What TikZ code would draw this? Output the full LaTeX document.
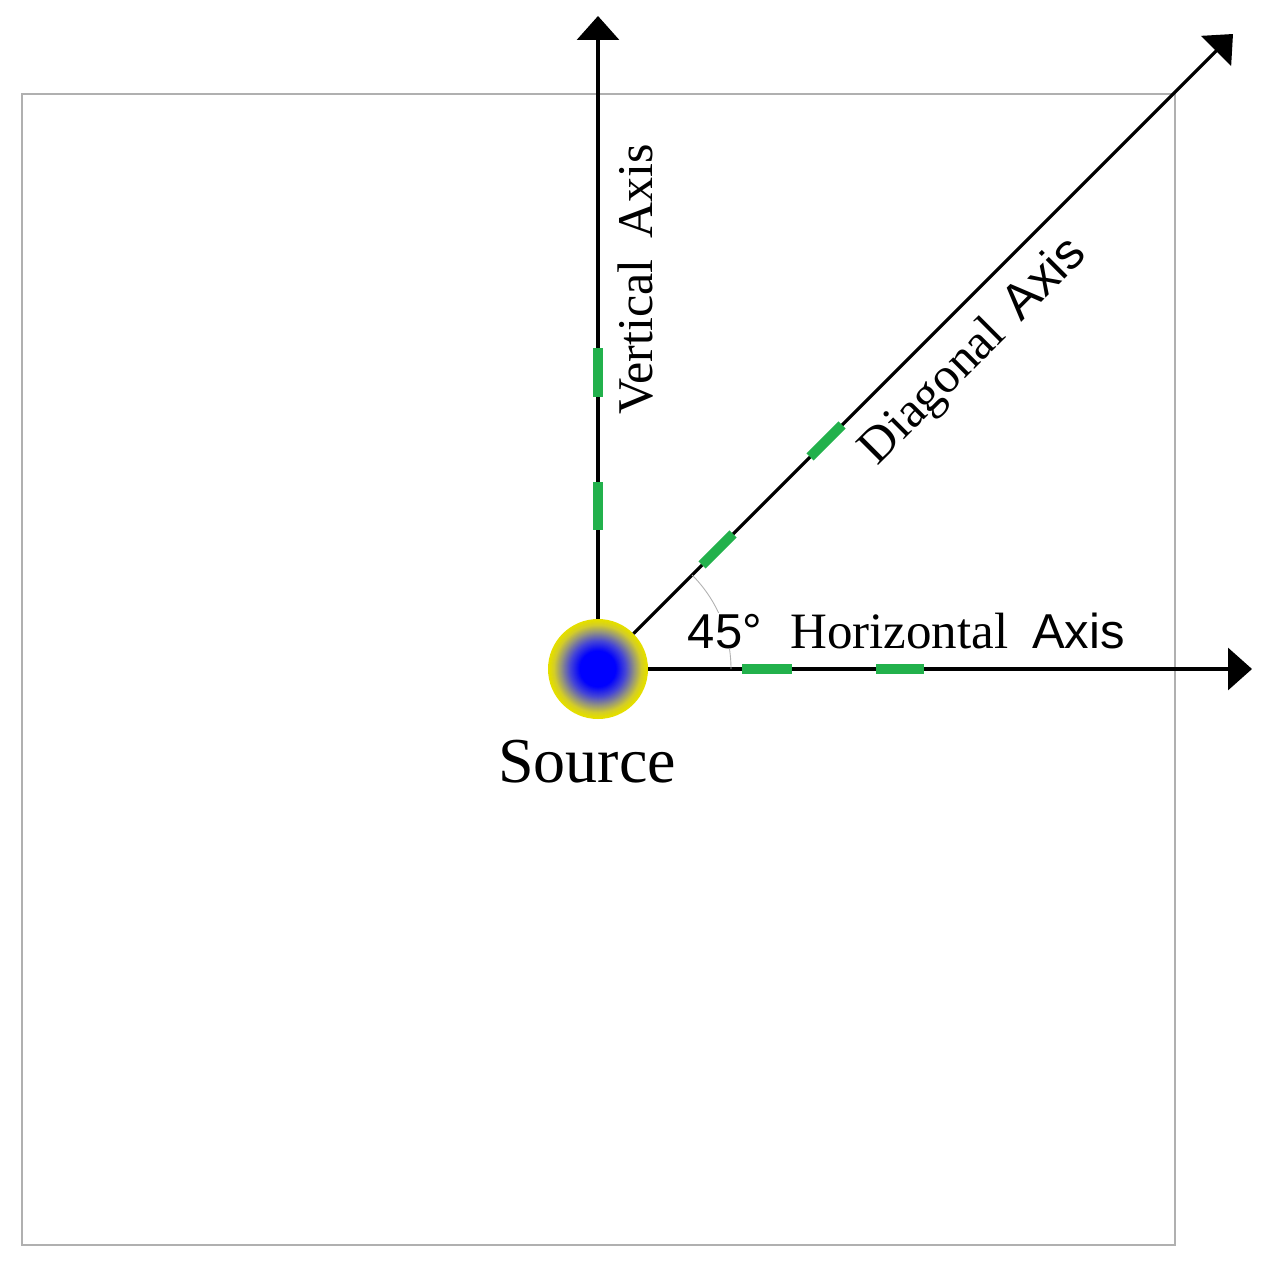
\documentclass[tikz,border=0pt]{standalone}
\usepackage{fontspec}
\setmainfont{Liberation Serif}
\newfontfamily\sansf{Liberation Sans}
\usetikzlibrary{arrows.meta}
\definecolor{dashgreen}{RGB}{34,177,76}
\definecolor{framegray}{RGB}{176,176,176}
\definecolor{ringyellow}{RGB}{228,222,0}
\definecolor{srcblue}{RGB}{0,0,255}
\definecolor{srcmidA}{RGB}{70,70,215}
\definecolor{srcmidB}{RGB}{150,150,125}
\definecolor{srcmidC}{RGB}{212,206,40}
\tikzset{
  axisline/.style={line width=3.2pt, draw=black, -{Triangle[length=24pt,width=42pt]}},
  gdash/.style={line width=10pt, draw=dashgreen, line cap=butt},
  frame/.style={line width=2.5pt, draw=framegray},
  anglearc/.style={line width=0.9pt, draw=black!30},
  lbl/.style={inner sep=0pt, font=\fontsize{50}{60}\selectfont},
}
\begin{document}
\begin{tikzpicture}[x=1pt,y=1pt]
\useasboundingbox (0,0) rectangle (1269,-1271);
% frame
\draw[frame] (22,-94) rectangle (1175,-1245);
% source
\node[circle, minimum size=100pt, inner sep=0pt, fill=ringyellow] (src) at (598,-669) {};
\foreach \rr in {48.5,48,...,44} {\pgfmathsetmacro\mixp{(\rr-44)/4.5*100}
  \fill[ringyellow!\mixp!srcmidC] (src.center) circle[radius=\rr];}
\foreach \rr in {43.5,43,...,37} {\pgfmathsetmacro\mixp{(\rr-37)/7*100}
  \fill[srcmidC!\mixp!srcmidB] (src.center) circle[radius=\rr];}
\foreach \rr in {36.5,36,...,28} {\pgfmathsetmacro\mixp{(\rr-28)/9*100}
  \fill[srcmidB!\mixp!srcmidA] (src.center) circle[radius=\rr];}
\foreach \rr in {27.5,27,...,18} {\pgfmathsetmacro\mixp{(\rr-18)/10*100}
  \fill[srcmidA!\mixp!srcblue] (src.center) circle[radius=\rr];}
% axes tips
\coordinate (vtip) at (598,-16);
\coordinate (dtip) at (1233,-34);
\coordinate (htip) at (1252,-669);
\draw[axisline] (src) -- (vtip);
\draw[axisline] (src) -- (dtip);
\draw[axisline] (src) -- (htip);
% green dashes
\draw[gdash] ([shift={(0,321)}]src.center) -- ([shift={(0,272)}]src.center);
\draw[gdash] ([shift={(0,187)}]src.center) -- ([shift={(0,139)}]src.center);
\draw[gdash] ([shift={(144,0)}]src.center) -- ([shift={(194,0)}]src.center);
\draw[gdash] ([shift={(278,0)}]src.center) -- ([shift={(326,0)}]src.center);
\draw[gdash] ([shift={(104,104)}]src.center) -- ([shift={(135,135)}]src.center);
\draw[gdash] ([shift={(212,212)}]src.center) -- ([shift={(244,244)}]src.center);
% angle arc
\draw[anglearc] ([shift={(133,0)}]src.center) arc[start angle=0, end angle=45, radius=133];
% labels
\node[lbl, anchor=base, fill=white, inner sep=1pt, font=\sansf\fontsize{49}{58}\selectfont] (ang) at (725,-648) {45°};
\node[lbl, anchor=base west] (hlab) at (790,-648) {\fontsize{51}{60}\selectfont Horizontal\hspace{24pt}{\sansf\fontsize{49}{58}\selectfont Axis}};
\node[lbl, anchor=base, rotate=45] (dlab) at (983,-361) {Diagonal\hspace{20pt}{\sansf Axis}};
\node[lbl, anchor=base west, rotate=90] (vlab) at (652,-415) {Vertical\hspace{21pt}Axis};
\node[lbl, anchor=base, font=\fontsize{64}{76}\selectfont] (srclab) at (587,-782) {Source};
\end{tikzpicture}
\end{document}
